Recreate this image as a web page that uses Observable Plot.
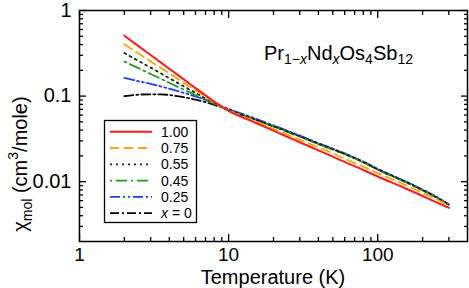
<!DOCTYPE html>
<html><head><meta charset="utf-8">
<script src="https://cdn.jsdelivr.net/npm/d3@7"></script>
<script src="https://cdn.jsdelivr.net/npm/@observablehq/plot@0.6"></script>
<style>
body{margin:0;background:#fff;}
#wrap{position:relative;width:469px;height:288px;}
</style></head><body><div id="wrap"></div>
<script>
// Temperature (K)
const temperature = [2, 2.5, 3, 3.5, 4, 5, 6, 7, 8, 10, 15, 20, 30, 40, 50, 60, 80, 100, 150, 200, 250, 300];
// chi_mol (cm^3/mole) for each Nd concentration x
const chi_x100 = [0.508, 0.381, 0.302, 0.248, 0.209, 0.157, 0.124, 0.102, 0.086, 0.067, 0.0491, 0.0394, 0.0289, 0.0232, 0.0196, 0.0170, 0.0137, 0.0115, 0.0085, 0.0068, 0.0057, 0.00496];
const chi_x075 = [0.403, 0.313, 0.255, 0.214, 0.184, 0.143, 0.116, 0.098, 0.084, 0.068, 0.051, 0.0415, 0.031, 0.0252, 0.0215, 0.0186, 0.0150, 0.0126, 0.0093, 0.0074, 0.0062, 0.0052];
const chi_x055 = [0.319, 0.256, 0.215, 0.185, 0.162, 0.130, 0.109, 0.094, 0.083, 0.069, 0.0535, 0.0445, 0.0340, 0.0278, 0.0240, 0.0212, 0.0170, 0.0140, 0.0102, 0.0080, 0.0065, 0.0054];
const chi_x045 = [0.253, 0.211, 0.181, 0.160, 0.143, 0.119, 0.103, 0.0906, 0.0812, 0.069, 0.053, 0.044, 0.0335, 0.0274, 0.0236, 0.0209, 0.0168, 0.0138, 0.0101, 0.0079, 0.0065, 0.0053];
const chi_x025 = [0.163, 0.149, 0.139, 0.130, 0.122, 0.109, 0.099, 0.090, 0.083, 0.071, 0.055, 0.0455, 0.0345, 0.0282, 0.0243, 0.0214, 0.0172, 0.0141, 0.0103, 0.0081, 0.0066, 0.0054];
const chi_x000 = [0.100, 0.104, 0.105, 0.105, 0.103, 0.097, 0.091, 0.085, 0.079, 0.069, 0.0535, 0.0445, 0.034, 0.0278, 0.024, 0.0211, 0.0169, 0.0139, 0.0101, 0.0080, 0.0065, 0.0054];

const seriesLabels = ["1.00", "0.75", "0.55", "0.45", "0.25", "x = 0"];
const seriesValues = [chi_x100, chi_x075, chi_x055, chi_x045, chi_x025, chi_x000];
const seriesColors = ["#ff1a1a", "#ffa500", "#222222", "#1e9e1e", "#1f3dff", "#000000"];
const seriesDash = [null, "9,5", "2,4", "2,4,11,4", "10,3,2,3,2,3", "9,3,2,3"];
const seriesWidth = [2, 1.8, 1.8, 1.8, 1.8, 1.8];

const xMajorTicks = [1, 10, 100];
const xMinorTicks = [2, 3, 4, 5, 6, 7, 8, 9, 20, 30, 40, 50, 60, 70, 80, 90, 200, 300];
const yMajorTicks = [0.01, 0.1, 1];
const yMinorTicks = [0.003, 0.004, 0.005, 0.006, 0.007, 0.008, 0.009, 0.02, 0.03, 0.04, 0.05, 0.06, 0.07, 0.08, 0.09, 0.2, 0.3, 0.4, 0.5, 0.6, 0.7, 0.8, 0.9];

const seriesData = seriesValues.map(vals => temperature.map((t, j) => ({T: t, chi: vals[j]})));

const font = "'Liberation Sans', Arial, Helvetica, sans-serif";
const noText = () => "";

const lineMarks = seriesData.map((d, i) => Plot.line(d, {
  x: "T", y: "chi", curve: "monotone-x",
  stroke: seriesColors[i], strokeWidth: seriesWidth[i],
  strokeDasharray: seriesDash[i] || undefined
})).reverse();

const svg = Plot.plot({
  width: 469, height: 288,
  marginLeft: 79, marginRight: 2, marginTop: 10, marginBottom: 47,
  x: {type: "log", domain: [1, 400]},
  y: {type: "log", domain: [0.002, 1]},
  style: {fontFamily: font, fontSize: "20px", color: "black", background: "white", overflow: "visible"},
  marks: [
    ...lineMarks,
    Plot.frame({stroke: "black", strokeWidth: 1.5}),
    Plot.axisX(xMajorTicks, {anchor: "bottom", tickSize: -7, strokeWidth: 1.3, tickFormat: noText, label: null}),
    Plot.axisX(xMinorTicks, {anchor: "bottom", tickSize: -4, strokeWidth: 1.3, tickFormat: noText, label: null}),
    Plot.axisX(xMajorTicks, {anchor: "top", tickSize: -7, strokeWidth: 1.3, tickFormat: noText, label: null}),
    Plot.axisX(xMinorTicks, {anchor: "top", tickSize: -4, strokeWidth: 1.3, tickFormat: noText, label: null}),
    Plot.axisY(yMajorTicks, {anchor: "left", tickSize: -7, strokeWidth: 1.3, tickFormat: noText, label: null}),
    Plot.axisY(yMinorTicks, {anchor: "left", tickSize: -4, strokeWidth: 1.3, tickFormat: noText, label: null}),
    Plot.axisY(yMajorTicks, {anchor: "right", tickSize: -7, strokeWidth: 1.3, tickFormat: noText, label: null}),
    Plot.axisY(yMinorTicks, {anchor: "right", tickSize: -4, strokeWidth: 1.3, tickFormat: noText, label: null}),
    Plot.axisX(xMajorTicks, {anchor: "bottom", tickSize: 0, tickPadding: 6, fontSize: 19, tickFormat: d => String(d), label: null}),
    Plot.axisY(yMajorTicks, {anchor: "left", tickSize: 0, tickPadding: 8, tickFormat: d => String(d), label: null})
  ]
});

document.getElementById("wrap").appendChild(svg);
const s = d3.select(svg);

// x-axis label
s.append("text").attr("x", 273).attr("y", 284).attr("text-anchor", "middle")
  .attr("font-size", 20).attr("fill", "black").text("Temperature (K)");

// y-axis label
const yl = s.append("text").attr("transform", "translate(27,164) rotate(-90)")
  .attr("text-anchor", "middle").attr("font-size", 20).attr("fill", "black");
yl.append("tspan").text("χ");
yl.append("tspan").attr("font-size", 14).attr("dy", 5).text("mol");
yl.append("tspan").attr("dy", -5).text(" (cm");
yl.append("tspan").attr("font-size", 14).attr("dy", -9).text("3");
yl.append("tspan").attr("dy", 9).text("/mole)");

// compound annotation
const tt = s.append("text").attr("x", 264).attr("y", 60).attr("text-anchor", "start")
  .attr("font-size", 20).attr("fill", "black");
tt.append("tspan").text("Pr");
tt.append("tspan").attr("font-size", 14).attr("dy", 4).text("1−");
tt.append("tspan").attr("font-size", 14).attr("font-style", "italic").text("x");
tt.append("tspan").attr("dy", -4).text("Nd");
tt.append("tspan").attr("font-size", 14).attr("font-style", "italic").attr("dy", 4).text("x");
tt.append("tspan").attr("dy", -4).text("Os");
tt.append("tspan").attr("font-size", 14).attr("dy", 4).text("4");
tt.append("tspan").attr("dy", -4).text("Sb");
tt.append("tspan").attr("font-size", 14).attr("dy", 4).text("12");

// legend
const lg = s.append("g");
lg.append("rect").attr("x", 104.5).attr("y", 120.5).attr("width", 92).attr("height", 102)
  .attr("fill", "white").attr("stroke", "black").attr("stroke-width", 1.3);
seriesLabels.forEach((lab, i) => {
  const cy = 131.7 + i * 16.3;
  lg.append("line").attr("x1", 110).attr("x2", 152).attr("y1", cy).attr("y2", cy)
    .attr("stroke", seriesColors[i]).attr("stroke-width", seriesWidth[i])
    .attr("stroke-dasharray", seriesDash[i]);
  const t = lg.append("text").attr("x", 161).attr("y", cy + 5).attr("text-anchor", "start")
    .attr("font-size", 14).attr("fill", "black");
  if (lab.startsWith("x")) {
    t.append("tspan").attr("font-style", "italic").text("x");
    t.append("tspan").text(lab.slice(1));
  } else t.text(lab);
});
</script></body></html>
